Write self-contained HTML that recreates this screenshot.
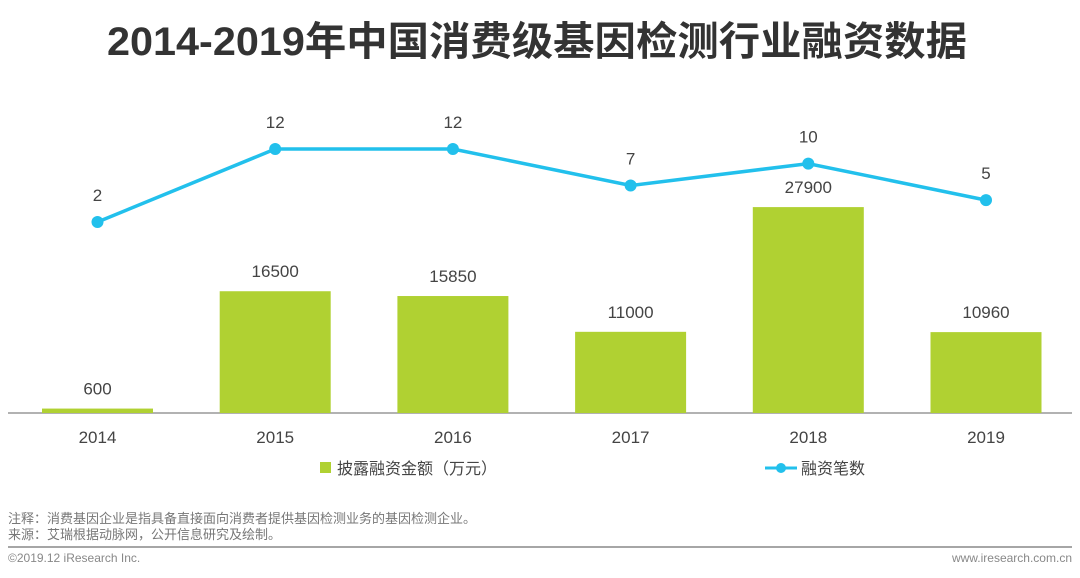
<!DOCTYPE html>
<html><head><meta charset="utf-8">
<style>
body{margin:0;background:#fff;}
svg{display:block;font-family:"Liberation Sans","Noto Sans CJK SC",sans-serif;}
</style></head>
<body>
<svg id="chart" width="1080" height="578" viewBox="0 0 1080 578">
<text x="107" y="55" textLength="860" lengthAdjust="spacingAndGlyphs" font-size="40" font-weight="bold" fill="#333">2014-2019年中国消费级基因检测行业融资数据</text>
<line x1="8" y1="413" x2="1072" y2="413" stroke="#999" stroke-width="1.5"/>
<g id="bars"></g><g id="line"></g><g id="xlabels"></g>
<rect x="320" y="462" width="11" height="11" fill="#b0d132"/>
<text x="337" y="474" font-size="16" fill="#444">披露融资金额（万元）</text>
<line x1="765" y1="468" x2="797" y2="468" stroke="#22c0ec" stroke-width="3"/>
<circle cx="781" cy="468" r="5" fill="#22c0ec"/>
<text x="801" y="474" font-size="16" fill="#444">融资笔数</text>
<text x="8" y="523" font-size="13" fill="#777">注释：消费基因企业是指具备直接面向消费者提供基因检测业务的基因检测企业。</text>
<text x="8" y="539" font-size="13" fill="#777">来源：艾瑞根据动脉网，公开信息研究及绘制。</text>
<line x1="8" y1="547" x2="1072" y2="547" stroke="#888" stroke-width="1.5"/>
<text x="8" y="562" font-size="12" fill="#888">©2019.12 iResearch Inc.</text>
<text x="1072" y="562" font-size="12" fill="#888" text-anchor="end">www.iresearch.com.cn</text>
</svg>
<script>
const categories=["2014","2015","2016","2017","2018","2019"];
const amounts=[600,16500,15850,11000,27900,10960];
const counts=[2,12,12,7,10,5];
const NS="http://www.w3.org/2000/svg";
function xc(i){return 97.5+i*177.7;}
function yb(v){return 413-v*0.00738;}
function yl(v){return 236.6-v*7.3;}
function mk(t,a,p){const e=document.createElementNS(NS,t);for(const k in a)e.setAttribute(k,a[k]);p.appendChild(e);return e;}
const gb=document.getElementById('bars'),gl=document.getElementById('line'),gx=document.getElementById('xlabels');
amounts.forEach((v,i)=>{
 const r=mk('rect',{x:xc(i)-55.5,y:yb(v),width:111,height:413-yb(v),fill:'#b0d132'},gb);
 
 
 const t=mk('text',{x:xc(i),y:yb(v)-14,'text-anchor':'middle','font-size':17,fill:'#444'},gb);
 t.textContent=v;
 
 
 const xl=mk('text',{x:xc(i),y:443,'text-anchor':'middle','font-size':17,fill:'#444'},gx);
 xl.textContent=categories[i];
 
 
});
const pl=mk('polyline',{points:counts.map((v,i)=>xc(i)+','+yl(v)).join(' '),fill:'none',stroke:'#22c0ec','stroke-width':3.5},gl);


counts.forEach((v,i)=>{
 const c=mk('circle',{cx:xc(i),cy:yl(v),r:6,fill:'#22c0ec'},gl);
 
 
 const t=mk('text',{x:xc(i),y:yl(v)-21,'text-anchor':'middle','font-size':17,fill:'#444'},gl);
 t.textContent=v;
 
 
});
</script>
</body></html>
